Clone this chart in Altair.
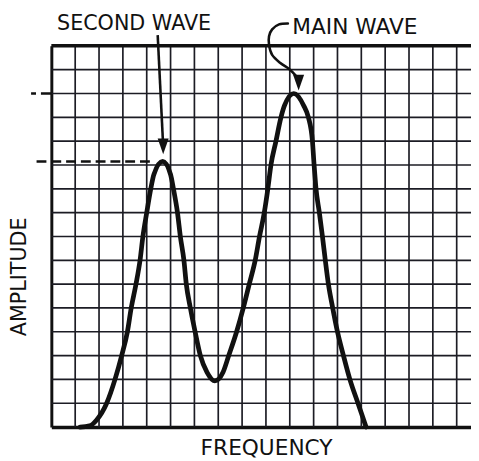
import altair as alt
import pandas as pd

# ---- data (x in grid columns, y in grid rows) ----
freq = [1.2, 1.6, 1.9, 2.32, 2.67, 2.95, 3.19, 3.35, 3.55, 3.72, 3.84, 4.0, 4.17, 4.3, 4.67,
        5.0, 5.12, 5.29, 5.41, 5.56, 5.66, 5.83, 6.03, 6.25, 6.53, 6.86,
        7.2, 7.44, 7.77, 8.05, 8.3, 8.55, 8.73, 8.93, 9.08, 9.21, 9.42, 9.63, 9.78, 10.17,
        10.58, 10.78, 10.95, 11.02, 11.1, 11.24, 11.37, 11.49, 11.62, 11.8, 12.0, 12.25, 12.52, 12.86, 13.2]
amp = [0.0, 0.05, 0.3, 1, 2, 3, 4, 5, 6, 7, 8, 9, 10, 10.6, 11.15,
       10.6, 10, 9, 8, 7, 6, 5, 4, 3, 2.3, 1.94,
       2.3, 3, 4, 5, 6, 7, 8, 9, 10, 11, 12, 13, 13.5, 14.0,
       13.5, 13, 12, 11, 10, 9, 8, 7, 6, 5, 4, 3, 2, 1, 0.0]

second_peak = 11.15
main_peak = 14.0

grid_cols = list(range(1, 18))
grid_rows = list(range(1, 16))

labels = ["SECOND WAVE", "MAIN WAVE"]
x_title = "FREQUENCY"
y_title = "AMPLITUDE"

arrow_main_x = [9.92, 9.55, 9.26, 9.13, 9.13, 9.26, 9.59, 9.96, 10.25, 10.35]
arrow_main_y = [16.94, 16.9, 16.69, 16.4, 16.03, 15.62, 15.29, 15.04, 14.75, 14.6]
arrow_second_x = [4.46, 4.68]
arrow_second_y = [16.45, 12.0]

X_MAX = 17.6
Y_MAX = 16
INK = "#111111"
GRID = "#1c1c24"
FONT = "DejaVu Sans"

xs = alt.Scale(domain=[0, X_MAX], nice=False, zero=False)
ys = alt.Scale(domain=[0, Y_MAX], nice=False, zero=False)

xaxis = alt.Axis(grid=False, ticks=False, labels=False, domain=True, domainColor=INK,
                 domainWidth=3.5, title=x_title, titleFont=FONT, titleFontSize=22,
                 titleFontWeight="normal", titleColor=INK, titleX=218, titleY=28,
                 titleAlign="center", titleBaseline="alphabetic")
yaxis = alt.Axis(grid=False, ticks=False, labels=False, domain=True, domainColor=INK,
                 domainWidth=3, title=y_title, titleFont=FONT, titleFontSize=21,
                 titleFontWeight="normal", titleColor=INK, titleAngle=270, titleX=-26,
                 titleY=234, titleAlign="center", titleBaseline="alphabetic")

# grid lines
vgrid = alt.Chart(pd.DataFrame({"c": grid_cols})).mark_rule(color=GRID, strokeWidth=1.7).encode(
    x=alt.X("c:Q", scale=xs, axis=xaxis), y=alt.datum(0), y2=alt.datum(Y_MAX)
)
hgrid = alt.Chart(pd.DataFrame({"r": grid_rows})).mark_rule(color=GRID, strokeWidth=1.7).encode(
    y=alt.Y("r:Q", scale=ys, axis=yaxis), x=alt.datum(0), x2=alt.datum(X_MAX)
)

curve_df = pd.DataFrame({"freq": freq, "amp": amp})
curve = alt.Chart(curve_df).mark_line(
    color=INK, strokeWidth=4.8, interpolate="monotone", strokeCap="round", strokeJoin="round"
).encode(
    x=alt.X("freq:Q", scale=xs),
    y=alt.Y("amp:Q", scale=ys),
)

top_frame = alt.Chart().mark_rule(color=INK, strokeWidth=3.5).encode(
    x=alt.datum(0), x2=alt.datum(X_MAX), y=alt.datum(Y_MAX)
)

dash_second = alt.Chart().mark_rule(color=INK, strokeWidth=2.6, strokeDash=[10, 5]).encode(
    x=alt.datum(-0.62), x2=alt.datum(4.3), y=alt.datum(second_peak)
)
dash_main = alt.Chart().mark_rule(color=INK, strokeWidth=2.6, strokeDash=[5, 5, 12, 3]).encode(
    x=alt.datum(-0.85), x2=alt.datum(0), y=alt.datum(main_peak)
)

am_df = pd.DataFrame({"x": arrow_main_x, "y": arrow_main_y, "o": list(range(len(arrow_main_x)))})
arrow_main = alt.Chart(am_df).mark_line(
    color=INK, strokeWidth=2.6, interpolate="cardinal", strokeCap="round"
).encode(x="x:Q", y="y:Q", order="o:Q")

as_df = pd.DataFrame({"x": arrow_second_x, "y": arrow_second_y})
arrow_second = alt.Chart(as_df).mark_line(color=INK, strokeWidth=2.6).encode(x="x:Q", y="y:Q")

HEAD = "M-0.7,-1L0.7,-1L0,1Z"
head_main = alt.Chart().mark_point(shape=HEAD, filled=True, size=256, color=INK, opacity=1).encode(
    x=alt.datum(10.37), y=alt.datum(14.46)
)
head_second = alt.Chart().mark_point(shape=HEAD, filled=True, size=256, color=INK, opacity=1).encode(
    x=alt.datum(4.69), y=alt.datum(11.78)
)

text_second = alt.Chart().mark_text(
    font=FONT, fontSize=21, color=INK, align="center", baseline="alphabetic"
).encode(x=alt.datum(3.47), y=alt.datum(16.65), text=alt.value(labels[0]))
text_main = alt.Chart().mark_text(
    font=FONT, fontSize=22, color=INK, align="center", baseline="alphabetic"
).encode(x=alt.datum(12.73), y=alt.datum(16.49), text=alt.value(labels[1]))

chart = alt.layer(
    vgrid, hgrid, curve, top_frame, dash_second, dash_main, arrow_main, arrow_second,
    head_main, head_second, text_second, text_main
).properties(
    width=426, height=387,
    autosize=alt.AutoSizeParams(type="none"),
    padding={"left": 44, "top": 35, "right": 0, "bottom": 30},
    background="white",
).configure_view(strokeWidth=0)

chart.save("out.html", embed_options={"renderer": "svg", "actions": False})
